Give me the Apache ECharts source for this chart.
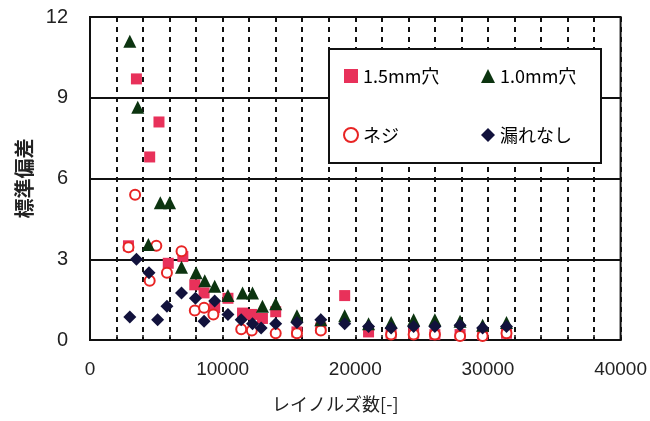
<!DOCTYPE html>
<html>
<head>
<meta charset="utf-8">
<script src="https://cdn.jsdelivr.net/npm/echarts@6/dist/echarts.min.js"></script>
<style>html,body{margin:0;padding:0;background:#fff}#c{width:650px;height:421px}</style>
</head>
<body>
<div id="c"></div>
<script>
var seriesNames = ['1.5mm穴', '1.0mm穴', 'ネジ', '漏れなし'];
var xTickLabels = ['0', '10000', '20000', '30000', '40000'];
var yTickLabels = ['0', '3', '6', '9', '12'];

var hole15 = [[2900,3.5],[3500,9.7],[4500,6.8],[5200,8.1],[5900,2.85],[7000,3.1],[7900,2.05],[8600,1.75],[9400,1.2],[10400,1.55],[11500,1.0],[12200,0.95],[13000,0.8],[14000,1.05],[15600,0.3],[17400,0.45],[19200,1.65],[21000,0.3],[22700,0.25],[24400,0.25],[26000,0.2],[27900,0.2],[29600,0.2],[31400,0.25]];
var hole10 = [[3000,11.1],[3600,8.65],[4400,3.55],[5300,5.1],[6000,5.1],[6900,2.7],[8000,2.5],[8650,2.2],[9400,2.0],[10400,1.65],[11500,1.75],[12250,1.75],[13000,1.25],[14000,1.35],[15600,0.9],[17400,0.75],[19200,0.9],[21000,0.6],[22700,0.65],[24400,0.75],[26000,0.75],[27900,0.7],[29600,0.55],[31400,0.65]];
var screw = [[2900,3.45],[3400,5.4],[4500,2.2],[5000,3.5],[5800,2.5],[6900,3.3],[7900,1.1],[8600,1.2],[9300,0.95],[11400,0.4],[12200,0.35],[14000,0.25],[15600,0.25],[17400,0.35],[22700,0.2],[24400,0.2],[26000,0.2],[27900,0.15],[29600,0.15],[31400,0.25]];
var noLeak = [[3000,0.85],[3500,3.0],[4450,2.5],[5100,0.75],[5800,1.25],[6900,1.75],[7950,1.55],[8600,0.7],[9400,1.45],[10400,0.95],[11400,0.75],[12250,0.6],[12900,0.45],[14000,0.6],[15600,0.65],[17400,0.75],[19200,0.6],[21000,0.5],[22700,0.45],[24400,0.5],[26000,0.5],[27900,0.55],[29600,0.45],[31400,0.5]];

var chart = echarts.init(document.getElementById('c'), null, {renderer: 'canvas'});
var numFont = 'Liberation Sans';
var jpFont = 'Noto Sans CJK JP';
var legendText = {fontFamily: jpFont, fontSize: 18, color: '#000'};

chart.setOption({
  animation: false,
  backgroundColor: '#fff',
  grid: {left: 90, top: 17, right: 27, bottom: 81, show: true, borderColor: '#111', borderWidth: 2, backgroundColor: 'transparent'},
  graphic: [{
    type: 'rect', z: 3, left: 328, top: 48,
    shape: {width: 272, height: 114},
    style: {fill: '#fff', stroke: '#111', lineWidth: 2}
  }],
  legend: [
    {data: [seriesNames[0], seriesNames[2]], orient: 'vertical', left: 338, top: 62, itemGap: 41, itemWidth: 14, itemHeight: 14, z: 5, textStyle: legendText, selectedMode: false},
    {data: [seriesNames[1], seriesNames[3]], orient: 'vertical', left: 476, top: 62, itemGap: 41, itemWidth: 14, itemHeight: 14, z: 5, textStyle: legendText, selectedMode: false}
  ],
  xAxis: {
    type: 'value', min: 0, max: 40000, interval: 2000,
    name: 'レイノルズ数[-]', nameLocation: 'middle', nameGap: 55,
    nameTextStyle: {fontFamily: jpFont, fontSize: 18, color: '#222', padding: [0, 40, 0, 0]},
    axisLine: {show: true, lineStyle: {color: '#111', width: 2}},
    axisTick: {show: true, inside: true, length: 5, lineStyle: {color: '#111', width: 1.5}},
    axisLabel: {
      fontFamily: numFont, fontSize: 19, color: '#222', margin: 20, showMaxLabel: true,
      formatter: function (v) { var i = xTickLabels.indexOf(String(v)); return i >= 0 ? xTickLabels[i] : ''; }
    },
    splitLine: {show: true, lineStyle: {color: '#111', width: 2, type: [5, 5]}}
  },
  yAxis: {
    type: 'value', min: 0, max: 12, interval: 3,
    name: '標準偏差', nameLocation: 'middle', nameGap: 55, nameRotate: 90,
    nameTextStyle: {fontFamily: jpFont, fontSize: 20, fontWeight: 'bold', color: '#222'},
    axisLine: {show: true, lineStyle: {color: '#111', width: 2}},
    axisTick: {show: false},
    axisLabel: {
      fontFamily: numFont, fontSize: 20, color: '#222', margin: 22,
      formatter: function (v) { var i = yTickLabels.indexOf(String(v)); return i >= 0 ? yTickLabels[i] : ''; }
    },
    splitLine: {show: true, lineStyle: {color: '#111', width: 2}}
  },
  series: [
    {name: seriesNames[0], type: 'scatter', data: hole15, symbol: 'rect', symbolSize: 11, z: 2,
     itemStyle: {color: '#e8315a', opacity: 1}},
    {name: seriesNames[1], type: 'scatter', data: hole10, symbol: 'triangle', symbolSize: 13, z: 4,
     itemStyle: {color: '#0c3410', opacity: 1}},
    {name: seriesNames[2], type: 'scatter', data: screw, symbol: 'circle', symbolSize: 10, z: 3,
     itemStyle: {color: '#fff', borderColor: '#e82424', borderWidth: 2, opacity: 1}},
    {name: seriesNames[3], type: 'scatter', data: noLeak, symbol: 'diamond', symbolSize: 13, z: 5,
     itemStyle: {color: '#12123c', opacity: 1}}
  ]
});
</script>
</body>
</html>
